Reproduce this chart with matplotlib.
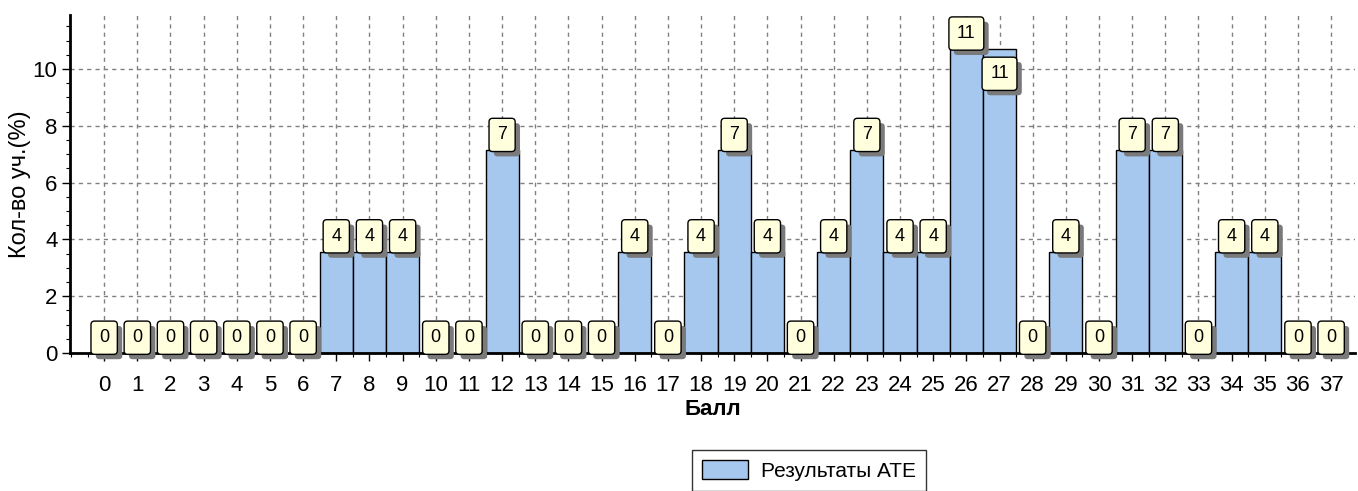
import matplotlib
matplotlib.use("Agg")
import matplotlib.pyplot as plt
import matplotlib.patheffects as pe
from matplotlib.ticker import MultipleLocator

scores = list(range(0, 38))
percent = [0, 0, 0, 0, 0, 0, 0, 3.57, 3.57, 3.57, 0, 0, 7.14, 0, 0, 0, 3.57, 0, 3.57, 7.14,
           3.57, 0, 3.57, 7.14, 3.57, 3.57, 10.71, 10.71, 0, 3.57, 0, 7.14, 7.14, 0, 3.57, 3.57, 0, 0]
labels = [str(int(round(v))) for v in percent]
series_name = "Результаты АТЕ"
xlabel = "Балл"
ylabel = "Кол-во уч.(%)"

plt.rcParams['font.family'] = ['Liberation Sans', 'DejaVu Sans']

fig = plt.figure(figsize=(13.58, 4.91), dpi=100)
ax = fig.add_axes([70/1358, 1-353/491, 1285/1358, 338/491])

ax.bar(scores, percent, width=1.0, color='#A6C8EE', edgecolor='black', linewidth=1.0, zorder=2,
       label=series_name)

ax.set_xlim(-1.03, 37.72)
ax.set_ylim(0, 11.9)
ax.set_xticks(scores)
ax.set_xticklabels([str(s) for s in scores])
ax.set_yticks([0, 2, 4, 6, 8, 10])
ax.yaxis.set_minor_locator(MultipleLocator(0.5))
ax.xaxis.set_minor_locator(MultipleLocator(0.5))
ax.tick_params(axis='both', which='major', labelsize=16, length=6, width=1, colors='black')
ax.tick_params(axis='x', which='major', pad=10)
ax.tick_params(axis='y', which='major', pad=3)
ax.tick_params(axis='both', which='minor', length=3, width=0.8)

ax.grid(True, which='major', color='#808080', linestyle=(0, (3, 3)), linewidth=1.0, zorder=0)
ax.set_axisbelow(True)

for s in ['top', 'right']:
    ax.spines[s].set_visible(False)
ax.spines['left'].set_linewidth(2)
ax.spines['bottom'].set_linewidth(2)

ax.set_xlabel(xlabel, fontsize=16, fontweight='bold', labelpad=2)
ax.set_ylabel(ylabel, fontsize=17, labelpad=1)

for i, (x, v, lab) in enumerate(zip(scores, percent, labels)):
    offset = 11
    if i > 0 and percent[i - 1] == v and v > 9:
        offset = -18
    t = ax.annotate(lab, xy=(x, v), xytext=(0, offset), textcoords='offset points',
                    ha='center', va='center', fontsize=13, zorder=5,
                    bbox=dict(boxstyle='round,pad=0.45,rounding_size=0.2', fc='#FFFFDD', ec='black', lw=1.0))
    t.get_bbox_patch().set_path_effects([
        pe.SimplePatchShadow(offset=(3.5, -3.5), shadow_rgbFace='#7a7a7a', alpha=1.0),
        pe.Normal()])

leg = fig.legend(loc='upper left', bbox_to_anchor=(692/1358, 1-450/491), frameon=True,
                 fancybox=False, fontsize=15, handlelength=2.2, handleheight=1.0,
                 borderpad=0.5, handletextpad=0.6, borderaxespad=0)
leg.get_frame().set_edgecolor('black')
leg.get_frame().set_linewidth(1.0)

fig.savefig('out.png', dpi=100)
